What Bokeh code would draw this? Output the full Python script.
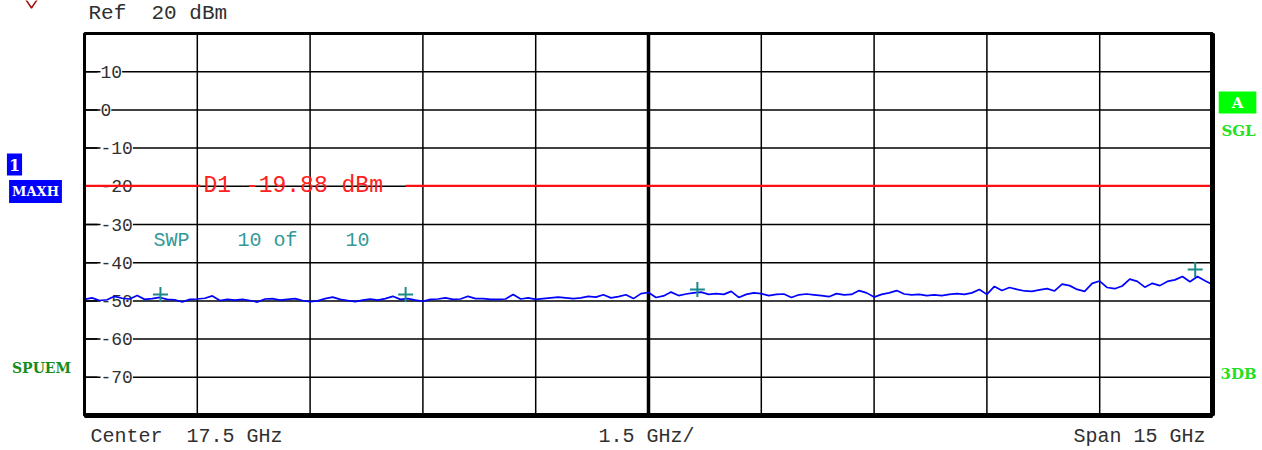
import numpy as np
from bokeh.plotting import figure
from bokeh.models import Label, Range1d
from bokeh.core.properties import value
from bokeh.embed import file_html
from bokeh.resources import INLINE

# ---- data ----
F_START, F_STOP = 10.0, 25.0        # GHz
CENTER_GHZ = 17.5
DIV_GHZ = 1.5
REF_DBM = 20
Y_BOTTOM = -80
Y_DIV = 10
Y_TICKS = [10, 0, -10, -20, -30, -40, -50, -60, -70]
Y_TICK_LABELS = ["10", "0", "-10", "-20", "-30", "-40", "-50", "-60", "-70"]

TRACE_DBM = [
    -49.6, -49.2, -49.9, -49.7, -48.8, -49.3, -49.5, -48.6, -49.6, -49.4,
    -49.1, -49.6, -49.7, -50.3, -49.6, -49.5, -49.3, -48.7, -49.9, -49.6,
    -49.8, -49.6, -49.9, -50.3, -49.5, -49.4, -49.8, -49.6, -49.4, -49.9,
    -50.2, -50.0, -49.4, -49.0, -49.6, -49.9, -50.2, -49.8, -49.5, -49.8,
    -49.4, -48.8, -49.6, -49.4, -49.8, -50.1, -49.6, -49.5, -49.2, -49.6,
    -49.5, -48.8, -49.4, -49.4, -49.6, -49.6, -49.5, -48.3, -49.5, -49.2,
    -49.6, -49.4, -49.2, -49.0, -49.2, -49.4, -49.2, -48.8, -49.0, -48.4,
    -49.2, -48.9, -48.4, -49.4, -48.1, -47.8, -49.1, -48.7, -47.7, -48.6,
    -48.2, -47.9, -47.7, -48.3, -48.1, -48.3, -47.5, -49.1, -48.3, -47.9,
    -48.1, -48.6, -48.3, -48.2, -49.1, -48.4, -48.2, -48.4, -48.6, -48.9,
    -48.1, -48.4, -48.3, -47.3, -47.9, -49.0, -48.3, -47.9, -47.3, -48.2,
    -48.4, -48.3, -48.6, -48.4, -48.6, -48.3, -48.1, -48.3, -47.9, -47.0,
    -48.3, -46.2, -47.3, -46.5, -47.0, -47.4, -47.5, -47.1, -46.8, -47.4,
    -45.6, -46.0, -47.0, -47.5, -45.4, -44.8, -46.5, -46.8, -46.1, -44.3,
    -44.9, -46.4, -45.4, -46.0, -44.9, -44.5, -43.6, -45.0, -43.6, -44.7,
    -45.7,
]
FREQ_GHZ = list(np.linspace(F_START, F_STOP, len(TRACE_DBM)))

MARKER_GHZ = [11.01, 14.27, 18.15, 24.77]
MARKER_DBM = [-48.3, -48.3, -47.0, -41.8]

D1_DBM = -19.88
D1_GAP = (11.54, 14.27)   # where the D1 readout interrupts the display line

# ---- layout (pixels) ----
W, H = 1262, 450
FL, FR, FT, FB = 84, 1212, 33, 415          # graticule box on the canvas
GX = (F_STOP - F_START) / (FR - FL)          # GHz per pixel
GY = (REF_DBM - Y_BOTTOM) / (FB - FT)        # dB per pixel

MONO = "Liberation Mono"
SERIF = "DejaVu Serif"


def nb(s):
    return s.replace(" ", "\u00a0")


p = figure(width=W, height=H,
           x_range=Range1d(F_START - FL * GX, F_STOP + (W - FR) * GX),
           y_range=Range1d(Y_BOTTOM - (H - FB) * GY, REF_DBM + FT * GY),
           x_axis_type=None, y_axis_type=None,
           output_backend="svg", toolbar_location=None, title=None, min_border=0)
p.background_fill_color = "white"
p.border_fill_color = "white"
p.outline_line_color = None

# graticule
x_grid = [F_START + i * DIV_GHZ for i in range(1, 10)]
y_grid = list(range(Y_BOTTOM + Y_DIV, REF_DBM, Y_DIV))
p.multi_line(xs=[[x, x] for x in x_grid], ys=[[Y_BOTTOM, REF_DBM]] * len(x_grid),
             line_color="black", line_width=1.5)
p.multi_line(xs=[[F_START, F_STOP]] * len(y_grid), ys=[[y, y] for y in y_grid],
             line_color="black", line_width=1.5)
p.segment(x0=[CENTER_GHZ], x1=[CENTER_GHZ], y0=[Y_BOTTOM], y1=[REF_DBM],
          line_color="black", line_width=3.5)

# y tick labels inside the frame
p.text(x=[F_START] * len(Y_TICKS), y=Y_TICKS, text=Y_TICK_LABELS, x_offset=16,
       text_baseline="middle", text_align="left", text_font=value(MONO),
       text_font_size="18px", text_color="#303030", background_fill_color="white")
# tick marks
p.segment(x0=[F_START] * len(Y_TICKS), x1=[F_START + 13 * GX] * len(Y_TICKS),
          y0=Y_TICKS, y1=Y_TICKS, line_color="black", line_width=1.5)

# display line D1
p.segment(x0=[F_START, D1_GAP[1]], x1=[D1_GAP[0], F_STOP], y0=[D1_DBM, D1_DBM],
          y1=[D1_DBM, D1_DBM], line_color="#ff1010", line_width=2.2)

# trace and markers
p.line(FREQ_GHZ, TRACE_DBM, line_color="#0000ff", line_width=1.7)
p.scatter(MARKER_GHZ, MARKER_DBM, marker="cross", size=15, line_color="#1a8a8a", line_width=2)

# frame
p.quad(left=[F_START], right=[F_STOP], bottom=[Y_BOTTOM], top=[REF_DBM],
       fill_color=None, line_color="black", line_width=3)
p.segment(x0=[F_STOP, F_START], x1=[F_STOP, F_STOP], y0=[Y_BOTTOM, Y_BOTTOM],
          y1=[REF_DBM, Y_BOTTOM], line_color="black", line_width=5)

# partially visible marker symbol at the very top-left
p.scatter([F_START - 53 * GX], [REF_DBM + 34 * GY], marker="diamond", size=17,
          fill_color=None, line_color="#a01010", line_width=1.5)


def lab(**kw):
    p.add_layout(Label(**kw))


lab(x=F_START, y=D1_DBM, x_offset=119, text="D1 -19.88 dBm", text_baseline="middle",
    text_font=MONO, text_font_size="23px", text_color="#ff2020")
lab(x=F_START, y=REF_DBM, x_offset=69, y_offset=-207, text=nb("SWP    10 of    10"),
    text_baseline="middle", text_font=MONO, text_font_size="20px", text_color="#339999")

lab(x=F_START, y=REF_DBM, x_offset=4, y_offset=20, text=nb("Ref  20 dBm"), text_baseline="middle",
    text_font=MONO, text_font_size="21px", text_color="#303030")
lab(x=F_START, y=Y_BOTTOM, x_offset=6, y_offset=-21, text=nb("Center  17.5 GHz"),
    text_baseline="middle", text_font=MONO, text_font_size="20px", text_color="#303030")
lab(x=CENTER_GHZ, y=Y_BOTTOM, x_offset=-50, y_offset=-21, text=nb("1.5 GHz/"),
    text_baseline="middle", text_font=MONO, text_font_size="20px", text_color="#303030")
lab(x=F_STOP, y=Y_BOTTOM, x_offset=-7, y_offset=-21, text=nb("Span 15 GHz"), text_align="right",
    text_baseline="middle", text_font=MONO, text_font_size="20px", text_color="#303030")

lab(x=F_START, y=REF_DBM, x_offset=-70, y_offset=-131, text="1", text_align="center",
    text_baseline="middle", text_font=SERIF, text_font_style="bold", text_font_size="16px",
    text_color="white", background_fill_color="#0000ff", padding=(2, 5))
lab(x=F_START, y=REF_DBM, x_offset=-49, y_offset=-158, text="MAXH", text_align="center",
    text_baseline="middle", text_font=SERIF, text_font_style="bold", text_font_size="13px",
    text_color="white", background_fill_color="#0000ff", padding=(3, 4))
lab(x=F_START, y=REF_DBM, x_offset=-43, y_offset=-334, text="SPUEM", text_align="center",
    text_baseline="middle", text_font=SERIF, text_font_style="bold", text_font_size="14px",
    text_color="#1a8c1a")

lab(x=F_STOP, y=REF_DBM, x_offset=25, y_offset=-69, text="A", text_align="center",
    text_baseline="middle", text_font=SERIF, text_font_style="bold", text_font_size="15px",
    text_color="white", background_fill_color="#00ff00", padding=(13, 2))
lab(x=F_STOP, y=REF_DBM, x_offset=26, y_offset=-97, text="SGL", text_align="center",
    text_baseline="middle", text_font=SERIF, text_font_style="bold", text_font_size="15px",
    text_color="#22e022")
lab(x=F_STOP, y=REF_DBM, x_offset=26, y_offset=-340, text="3DB", text_align="center",
    text_baseline="middle", text_font=SERIF, text_font_style="bold", text_font_size="15px",
    text_color="#22e022")

open("out.html", "w").write(file_html(p, INLINE))
